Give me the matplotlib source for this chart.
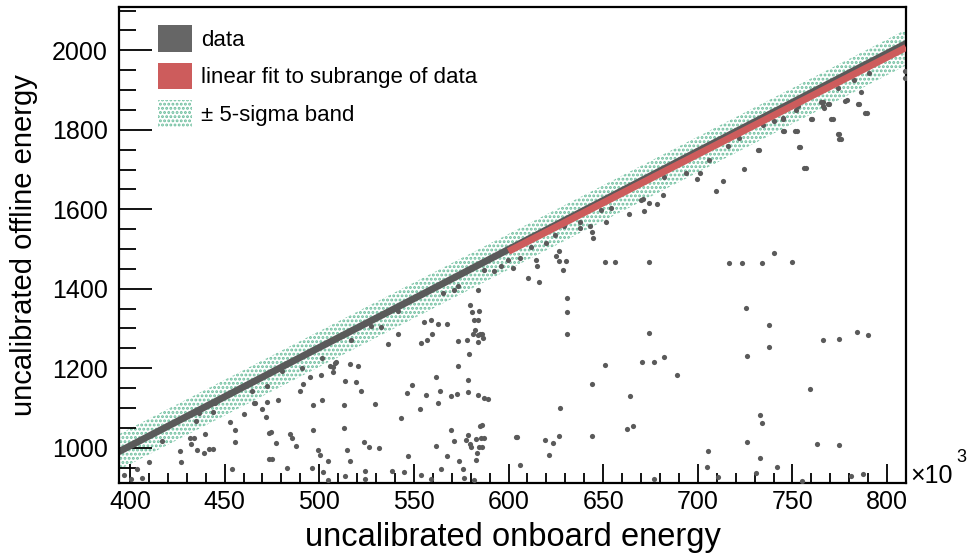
import matplotlib
matplotlib.use("Agg")
import matplotlib.pyplot as plt
from matplotlib.patches import Patch

plt.rcParams['font.family'] = ['Liberation Sans', 'DejaVu Sans']
plt.rcParams['hatch.linewidth'] = 1.4

# main ridge of the data (onboard energy in 10^3, offline energy)
ridge_x = [394.2, 450, 500, 550, 600, 650, 700, 750, 810]
ridge_y = [990, 1128, 1252, 1375, 1499, 1622, 1746, 1869, 2017]

# linear fit to the subrange
fit_x = [600, 810]
fit_y = [1494, 2007]

# +- 5 sigma band
band_x = [394.2, 810]
band_lo = [944, 1962]
band_hi = [1034, 2052]

# points just below the ridge
near_x = [417, 436.3, 443.8, 445.1, 464.4, 466.1, 472.3, 480.2, 490.7, 501.2,
          505.6, 508.2, 517, 527.5, 541.6, 565.3, 571.4, 573.1, 583.7, 587.2,
          592.4, 596, 599.5, 637.5, 637.5, 642.8, 648.9, 654.2, 670.1, 682,
          693.8, 700.9, 706.1, 715.8, 722, 734.3, 740.5, 744.9, 751.9, 766,
          768.6, 619.9, 612, 624.3, 629.5, 774, 766, 769.5, 782.4, 790.7,
          752.8, 744.8, 434.9, 452.6, 532.8]
near_y = [1016, 1087, 1089, 1112, 1142, 1112, 1154, 1192, 1200, 1226,
          1205, 1213, 1272, 1305, 1343, 1389, 1397, 1406, 1397, 1448,
          1444, 1456, 1473, 1569, 1553, 1558, 1599, 1603, 1624, 1681,
          1691, 1691, 1723, 1760, 1779, 1813, 1821, 1829, 1850, 1859,
          1865, 1515, 1506, 1536, 1558, 1905, 1871, 1865, 1926, 1943,
          1860, 1828, 1066, 1065, 1304]

# scattered outliers
out_x = [396.8, 403.9, 406.1, 410.3, 400.3, 426.3, 427, 431.9, 432.4, 433.7,
         435.4, 438.9, 439.8, 441.6, 443.9, 453.9, 455.3, 455.6, 460.2, 465.3,
         469.6, 472.3, 471.9, 473.5, 474.4, 473.2, 474.9, 477.2, 478.4, 482.8,
         484.4, 485.4, 487.7, 490, 491.6, 495.1, 496.8, 496.7, 496.3, 499.5,
         500.5, 501.2, 500.9, 501.9, 504.4, 504.4, 507.4, 509.1, 507.5, 513.5,
         513, 513.1, 514.4, 516.1, 516.5, 513.5, 519.6, 520.5, 522.3, 523.5,
         524, 524, 526.1, 529.3, 531.8, 536.1, 538.6, 541.6, 543.3, 544.6,
         546.8, 546.5, 548.9, 553, 553.5, 553.9, 555.1, 556.3, 557, 559.1,
         559.5, 561.9, 562.6, 561.7, 562.6, 564, 564.4, 559.1, 567.5, 567.7,
         569.6, 569.6, 571, 572.8, 573.1, 573.1, 573.7, 575.8, 576.7, 577.5,
         578, 578.4, 578.4, 578.8, 579.3, 579.8, 579.8, 580.2, 580.5, 581,
         581.6, 581.9, 582.3, 582.8, 582.8, 583.3, 583.7, 583.7, 584, 584,
         584.5, 584.5, 585.1, 585.1, 585.4, 585.8, 585.9, 586.3, 585.9, 586.8,
         587.2, 588.9, 603.8,
         602.3, 605.8, 610.2, 614.6, 615, 616.3, 625.1, 626.6, 626.6, 628.7,
         630.1, 631, 631, 630.8, 627.3, 626.9, 621.6, 619.3, 623.4, 604.4,
         605.8, 644.2, 644.5, 644.2, 644, 651.2, 651.2, 656.5, 664.2, 662.5,
         665.6, 670.6, 674.1, 674.1, 676.6, 682, 689.1, 677.1, 671.6, 674.4,
         678.5, 681.8, 663.5, 651.6, 670.9, 699.8, 709.7, 713.5, 724.6, 731.7,
         716.3, 723.4, 733.8, 740.1, 749.8, 725.5, 725.9, 737.8, 737.5, 725.9,
         732.9, 733.8, 732.9, 730.8, 742.1, 705.3, 704.7, 710.7, 755.1, 759.3,
         762.8, 766.3, 774.8, 784, 789.8, 774.8, 781, 787.1, 753.3, 756.1,
         751.5, 744.9, 759.7, 770.6, 773.9, 774.8, 778, 784.7, 788.5, 766.5,
         765.1, 809.5, 809.5, 786.3, 778.7, 785.4, 789.6, 771.3, 760.5, 745.7,
         752.2, 774.8, 775.7, 754.1, 732.3, 757]
out_y = [930, 945, 923, 963, 920, 992, 963, 1024, 1010, 1024,
         995, 986, 1035, 997, 997, 945, 1044, 1014, 1084, 1112,
         1096, 1114, 1077, 1037, 1039, 972, 971, 1012, 1121, 948,
         1035, 1023, 1003, 1142, 1161, 1178, 1108, 1044, 948, 994,
         982, 1121, 1184, 938, 966, 918, 1191, 1215, 1203, 1168,
         1107, 1050, 993, 966, 1211, 928, 1164, 1206, 1143, 1015,
         941, 921, 1002, 1110, 1000, 1260, 942, 1287, 1075, 938,
         980, 1138, 1158, 1097, 1263, 930, 1315, 1132, 1272, 1322,
         1286, 1179, 1113, 1004, 1312, 1143, 946, 921, 1312, 978,
         1129, 1045, 1016, 1136, 1268, 1205, 966, 945, 924, 1018,
         1272, 1169, 1033, 1139, 1236, 1360, 1009, 1001, 1341, 1286,
         918, 1320, 1295, 1022, 970, 987, 1320, 1284, 1265, 1132,
         1001, 1343, 1286, 1054, 1024, 1058, 1286, 1276, 1001, 1125,
         1024, 1123, 1026,
         1452, 1477, 1427, 1473, 1458, 1417, 1483, 1494, 1469, 1448,
         1469, 1377, 1341, 1287, 1099, 1029, 981, 1018, 1012, 1026,
         956, 1543, 1528, 1159, 1030, 1467, 1208, 1468, 1131, 1048,
         1055, 1215, 1466, 1288, 1215, 1227, 1183, 920, 1595, 1616,
         1612, 1637, 1588, 1567, 1626, 1677, 1647, 1670, 1701, 1748,
         1465, 1464, 1465, 1490, 1468, 1351, 1230, 1308, 1254, 1013,
         1082, 1061, 973, 936, 952, 992, 952, 926, 917, 1148,
         1010, 1272, 1273, 1292, 1284, 1007, 928, 934, 1757, 1704,
         1796, 1796, 1827, 1827, 1790, 1777, 1872, 1865, 1841, 1855,
         1870, 1947, 1930, 1894, 1874, 1865, 1841, 1828, 1827, 1797,
         1797, 1790, 1777, 1757, 1749, 1705]

grey = '#5a5a5a'
red = '#cd5c5c'
green = '#6bbd9c'

fig = plt.figure(figsize=(9.69, 5.56), dpi=100)
ax = fig.add_axes([0.1228, 0.1313, 0.8122, 0.8561])

ax.fill_between(band_x, band_lo, band_hi, facecolor='none', edgecolor=green,
                hatch='....', linewidth=0, zorder=1)
ax.plot(ridge_x, ridge_y, color=grey, lw=5, solid_capstyle='round', zorder=2)
ax.scatter(near_x, near_y, s=14, color=grey, linewidths=0, zorder=3)
ax.scatter(out_x, out_y, s=14, color=grey, linewidths=0, zorder=3)
ax.plot(fit_x, fit_y, color=red, lw=5, solid_capstyle='butt', zorder=4)

ax.set_xlim(394.2, 810)
ax.set_ylim(911, 2109)

ax.set_xticks([400, 450, 500, 550, 600, 650, 700, 750, 800])
ax.set_xticks(range(400, 811, 10), minor=True)
ax.set_yticks([1000, 1200, 1400, 1600, 1800, 2000])
ax.set_yticks(range(950, 2101, 50), minor=True)
ax.tick_params(axis='both', which='both', direction='in', top=False, right=False,
               labelsize=18, width=1.3, colors='black')
ax.tick_params(axis='x', which='major', length=14, pad=5)
ax.tick_params(axis='x', which='minor', length=7)
ax.tick_params(axis='y', which='major', length=24, pad=8)
ax.tick_params(axis='y', which='minor', length=12)
for s in ax.spines.values():
    s.set_linewidth(1.6)

ax.set_xlabel('uncalibrated onboard energy', fontsize=23.5, labelpad=6)
ax.set_ylabel('uncalibrated offline energy', fontsize=21, labelpad=10)

ax.text(1.005, 0.0, '\u00d710', transform=ax.transAxes, fontsize=18,
        ha='left', va='baseline')
ax.text(1.064, 0.045, '3', transform=ax.transAxes, fontsize=13,
        ha='left', va='baseline')

handles = [Patch(facecolor='#666666', edgecolor='none', label='data'),
           Patch(facecolor=red, edgecolor='none', label='linear fit to subrange of data'),
           Patch(facecolor='none', edgecolor=green, hatch='....', lw=0,
                 label='\u00b1 5-sigma band')]
ax.legend(handles=handles, loc='upper left', bbox_to_anchor=(0.038, 0.98),
          frameon=False, fontsize=16, handlelength=1.55, handleheight=1.45,
          handletextpad=0.4, labelspacing=0.5, borderaxespad=0)

plt.savefig('out.png', dpi=100)
